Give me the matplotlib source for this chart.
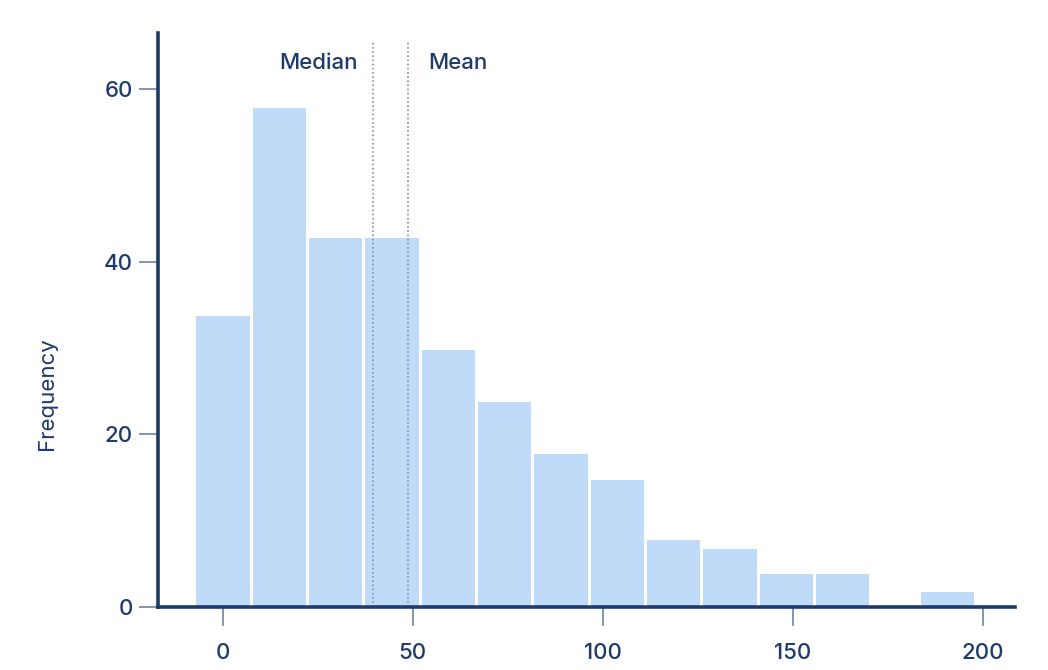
import matplotlib.pyplot as plt

plt.rcParams['font.family'] = ['Inter', 'DejaVu Sans']
plt.rcParams['font.weight'] = 'medium'

# histogram bars: left edge of each bin and its count
bin_lefts = [-7.42, 7.40, 22.22, 37.04, 51.86, 66.68, 81.50, 96.32,
             111.14, 125.96, 140.78, 155.60, 183.20]
counts = [34, 58, 43, 43, 30, 24, 18, 15, 8, 7, 4, 4, 2]
bin_width = 14.82
median_val = 39.5
mean_val = 48.9

navy = '#1d3a6b'
tick_col = '#6f84a3'
bar_col = '#bfdbf7'

fig = plt.figure(figsize=(10.48, 6.7), dpi=100)
ax = fig.add_axes([0.1508, 0.094, 0.8177, 0.8566])

ax.bar(bin_lefts, counts, width=bin_width, align='edge', color=bar_col,
       edgecolor='white', linewidth=2.2, zorder=1)

for v in [median_val, mean_val]:
    ax.axvline(v, ymax=0.987, color='#8c8cab', linestyle=(0, (1, 1.5)),
               linewidth=1.2, zorder=2)
ax.text(median_val - 4, 63.0, 'Median', ha='right', va='center', fontsize=16, color=navy)
ax.text(mean_val + 5.2, 63.0, 'Mean', ha='left', va='center', fontsize=16, color=navy)

ax.set_xlim(-17.0, 208.5)
ax.set_ylim(0, 66.5)
ax.set_xticks([0, 50, 100, 150, 200])
ax.set_yticks([0, 20, 40, 60])

for s in ['top', 'right']:
    ax.spines[s].set_visible(False)
for s in ['left', 'bottom']:
    ax.spines[s].set_color(navy)
    ax.spines[s].set_linewidth(2.6)

ax.tick_params(axis='both', colors=tick_col, length=14, width=1.2, labelsize=16,
               labelcolor=navy)
ax.tick_params(axis='x', pad=12)
ax.tick_params(axis='y', pad=4)

ax.set_ylabel('Frequency', fontsize=16, color=navy)
ax.yaxis.set_label_coords(-0.118, 0.372)

fig.savefig('out.png', dpi=100)
